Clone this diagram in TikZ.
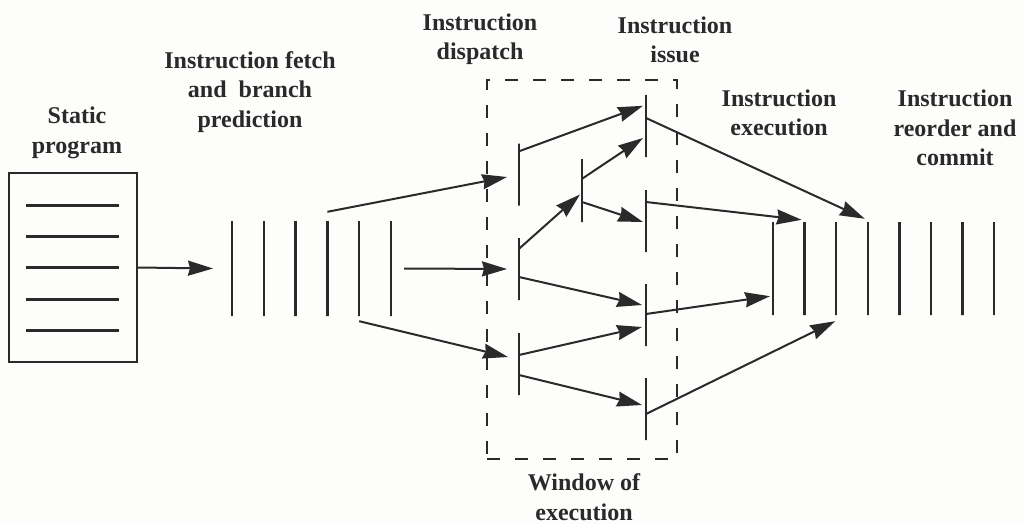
\documentclass[tikz,border=0pt]{standalone}
\usepackage{fontspec}
\setmainfont{Liberation Serif}
\usetikzlibrary{calc,arrows.meta}
\definecolor{ink}{HTML}{2A2A2A}
\definecolor{paper}{HTML}{FDFDFB}

\begin{document}
\begin{tikzpicture}[x=1pt,y=-1pt,
  stagetext/.style={align=center,text=ink,font=\fontsize{24}{29.5}\selectfont\bfseries},
  stagebar/.style={draw=ink,line width=2.4pt,minimum width=0pt,inner sep=0pt,minimum height=#1},
  flow/.style={draw=ink,line width=2pt,-{Stealth[length=25pt,width=15pt,inset=2pt]}}]
  \fill[paper] (0,0) rectangle (1024,524);
  \useasboundingbox (0,0) rectangle (1024,524);
  % static program
  \node[draw=ink,line width=2pt,minimum width=128pt,minimum height=189pt] (prog) at (73,267.5) {};
  \foreach \dy in {-62,-31,0,32,63}
    \draw[ink,line width=2.2pt] ($(prog.west)+(18,\dy)$) -- ++(93,0);
  \node[stagetext] (progtxt) at (77,133) {Static\\program};
  % fetch buffer
  \foreach \i in {1,...,6}
    \node[stagebar=95pt] (f\i) at ({232+31.8*(\i-1)},268.5) {};
  \node[stagetext] (fetchtxt) at (250,92) {Instruction fetch\\and\ \ branch\\prediction};
  % window of execution
  \node[draw=ink,line width=2pt,dash pattern=on 13pt off 15pt,minimum width=190pt,minimum height=379pt] (win) at (582,269.5) {};
  \node[stagetext,inner sep=1pt] (wintxt) at (584,497) {Window of\\execution};
  \foreach \i/\y in {1/174.5,2/269,3/364}
    \node[stagebar=62pt] (d\i) at (519,\y) {};
  \node[stagebar=63pt] (m) at (582,190.5) {};
  \foreach \i/\y in {1/126,2/221,3/315,4/409}
    \node[stagebar=62pt] (i\i) at (646,\y) {};
  \node[stagetext] (disptxt) at (480,39) {Instruction\\dispatch};
  \node[stagetext] (issuetxt) at (675,40) {Instruction\\issue};
  % execution and commit
  \foreach \i in {1,...,8}
    \node[stagebar=93pt] (c\i) at ({773+31.6*(\i-1)},268.5) {};
  \node[stagetext] (exectxt) at (779,113) {Instruction\\execution};
  \node[stagetext] (committxt) at (955,128) {Instruction\\reorder and\\commit};
  % connectors
  \draw[flow] (prog.east) -- ([xshift=-19pt]f1.center);
  \draw[flow] ($(f4.north)+(0,-8)$) -- ($(d1.center)+(-12,2.5)$);
  \draw[flow] ([xshift=13pt]f6.center) -- ([xshift=-12pt]d2.center);
  \draw[flow] ($(f5.south)+(0,4)$) -- ($(d3.center)+(-11,-7)$);
  \draw[flow] ($(d1.north)+(0,9)$) -- ($(i1.north)+(-3,12)$);
  \draw[flow] ($(d2.north)+(0,12)$) -- ($(m.center)+(-2,4)$);
  \draw[flow] ($(m.north)+(0,21)$) -- ($(i1.center)+(-3,12)$);
  \draw[flow] ($(m.center)+(0,11.5)$) -- ($(i2.center)+(-3,1)$);
  \draw[flow] ($(d2.center)+(0,8)$) -- ($(i3.center)+(-4,-10)$);
  \draw[flow] ($(d3.center)+(0,-9)$) -- ($(i3.center)+(-4,12)$);
  \draw[flow] ($(d3.center)+(0,11)$) -- ($(i4.center)+(-4,-4)$);
  \draw[flow] ($(i1.center)+(0,-8)$) -- ($(c4.north)+(-3,-2)$);
  \draw[flow] ($(i2.center)+(0,-19)$) -- ($(c2.north)+(-3,-1)$);
  \draw[flow] ($(i3.center)+(0,-1)$) -- ($(c1.south)+(-3,-20)$);
  \draw[flow] ($(i4.center)+(0,5)$) -- ($(c3.south)+(-1,5)$);
\end{tikzpicture}
\end{document}
